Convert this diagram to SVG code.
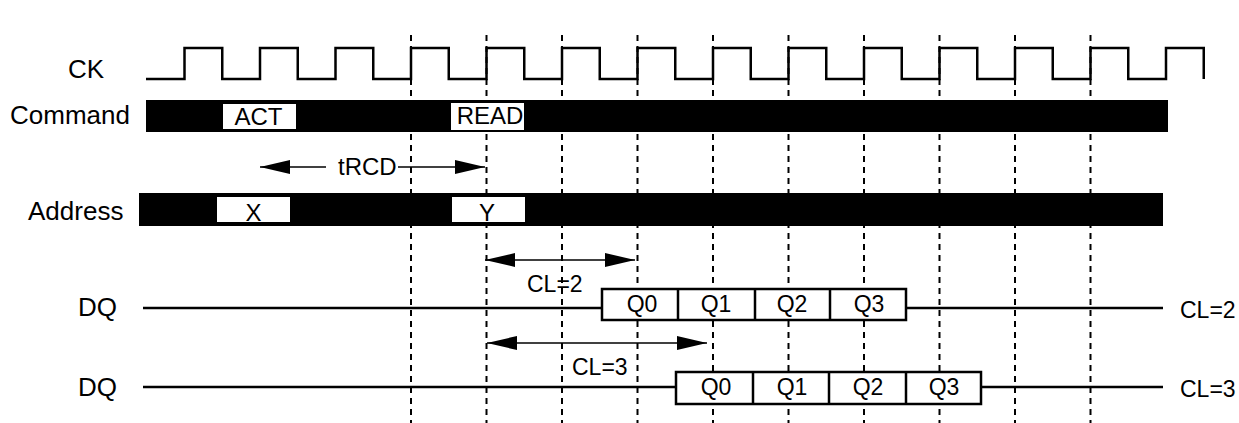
<svg xmlns="http://www.w3.org/2000/svg" width="1239" height="423" viewBox="0 0 1239 423">
<style>
  text { font-family: "Liberation Sans", Arial, Helvetica, sans-serif; fill: #000; }
  .lbl { font-size: 26px; }
  .blbl { font-size: 24px; text-anchor: middle; }
  .cl { font-size: 23px; }
  .q { font-size: 23px; text-anchor: middle; }
  .grid { stroke: #000; stroke-width: 2; stroke-dasharray: 6 5; fill: none; }
  .wave { stroke: #000; stroke-width: 2.5; fill: none; }
  .bar { fill: #000; }
  .box { fill: #fff; stroke: #000; stroke-width: 2.5; }
  .wbox { fill: #fff; stroke: none; }
  .arr { stroke: #000; stroke-width: 1.3; fill: none; }
</style>
<defs>
  <marker id="ah" markerUnits="userSpaceOnUse" markerWidth="30" markerHeight="14" refX="30" refY="7" orient="auto-start-reverse">
    <path d="M0,0 L30,7 L0,14 z" fill="#000"/>
  </marker>
</defs>
<rect width="1239" height="423" fill="#fff"/>

<g id="gridlines">
  <line class="grid" x1="411" y1="35" x2="411" y2="423"/>
  <line class="grid" x1="486.5" y1="35" x2="486.5" y2="423"/>
  <line class="grid" x1="562" y1="35" x2="562" y2="423"/>
  <line class="grid" x1="637.5" y1="35" x2="637.5" y2="423"/>
  <line class="grid" x1="713" y1="35" x2="713" y2="423"/>
  <line class="grid" x1="788.5" y1="35" x2="788.5" y2="423"/>
  <line class="grid" x1="864" y1="35" x2="864" y2="423"/>
  <line class="grid" x1="939.5" y1="35" x2="939.5" y2="423"/>
  <line class="grid" x1="1015" y1="35" x2="1015" y2="423"/>
  <line class="grid" x1="1090.5" y1="35" x2="1090.5" y2="423"/>
</g>

<g id="ck">
  <text class="lbl" x="68" y="78">CK</text>
  <path class="wave" d="M146,79 H184.5 V48 H222.25 V79 H260 V48 H297.75 V79 H335.5 V48 H373.25 V79 H411 V48 H448.75 V79 H486.5 V48 H524.25 V79 H562 V48 H599.75 V79 H637.5 V48 H675.25 V79 H713 V48 H750.75 V79 H788.5 V48 H826.25 V79 H864 V48 H901.75 V79 H939.5 V48 H977.25 V79 H1015 V48 H1052.75 V79 H1090.5 V48 H1128.25 V79 H1166 V48 H1203.75 V79"/>
</g>

<g id="command">
  <text class="lbl" x="10" y="124">Command</text>
  <rect class="bar" x="146" y="100" width="1022" height="32"/>
  <rect class="wbox" x="223" y="104" width="73" height="25"/>
  <text class="blbl" x="258.5" y="125">ACT</text>
  <rect class="wbox" x="451" y="103" width="73" height="27"/>
  <text class="blbl" x="490" y="124">READ</text>
</g>

<g id="address">
  <text class="lbl" x="28" y="220">Address</text>
  <rect class="bar" x="139" y="193" width="1024" height="33"/>
  <rect class="wbox" x="217" y="197" width="73" height="25"/>
  <text class="blbl" x="253.5" y="221">X</text>
  <rect class="wbox" x="452" y="197" width="73" height="25"/>
  <text class="blbl" x="487" y="221">Y</text>
</g>

<g id="dq-cl2">
  <text class="lbl" x="78" y="316">DQ</text>
  <line class="wave" x1="143" y1="308" x2="602" y2="308"/>
  <line class="wave" x1="906" y1="308" x2="1163" y2="308"/>
  <rect class="box" x="602" y="289" width="304" height="31"/>
  <line class="wave" x1="678" y1="289" x2="678" y2="320"/>
  <line class="wave" x1="755" y1="289" x2="755" y2="320"/>
  <line class="wave" x1="830" y1="289" x2="830" y2="320"/>
  <text class="q" x="642" y="312">Q0</text>
  <text class="q" x="716" y="312">Q1</text>
  <text class="q" x="792" y="312">Q2</text>
  <text class="q" x="869" y="312">Q3</text>
  <text class="cl" x="1180" y="318">CL=2</text>
</g>

<g id="dq-cl3">
  <text class="lbl" x="78" y="396">DQ</text>
  <line class="wave" x1="143" y1="387" x2="676" y2="387"/>
  <line class="wave" x1="981" y1="387" x2="1163" y2="387"/>
  <rect class="box" x="676" y="372" width="305" height="32"/>
  <line class="wave" x1="753" y1="372" x2="753" y2="404"/>
  <line class="wave" x1="829" y1="372" x2="829" y2="404"/>
  <line class="wave" x1="906" y1="372" x2="906" y2="404"/>
  <text class="q" x="716" y="395">Q0</text>
  <text class="q" x="792" y="395">Q1</text>
  <text class="q" x="868" y="395">Q2</text>
  <text class="q" x="944" y="395">Q3</text>
  <text class="cl" x="1180" y="397">CL=3</text>
</g>

<g id="connectors">
  <line class="arr" x1="326" y1="167" x2="260" y2="167" marker-end="url(#ah)"/>
  <text class="cl" x="338" y="175" style="font-size:24px">tRCD</text>
  <line class="arr" x1="398" y1="167" x2="485" y2="167" marker-end="url(#ah)"/>
  <line class="arr" x1="485" y1="260" x2="635" y2="260" marker-start="url(#ah)" marker-end="url(#ah)"/>
  <text class="cl" x="527" y="292">CL=2</text>
  <line class="arr" x1="487" y1="343" x2="707" y2="343" marker-start="url(#ah)" marker-end="url(#ah)"/>
  <text class="cl" x="572" y="375">CL=3</text>
</g>
</svg>
